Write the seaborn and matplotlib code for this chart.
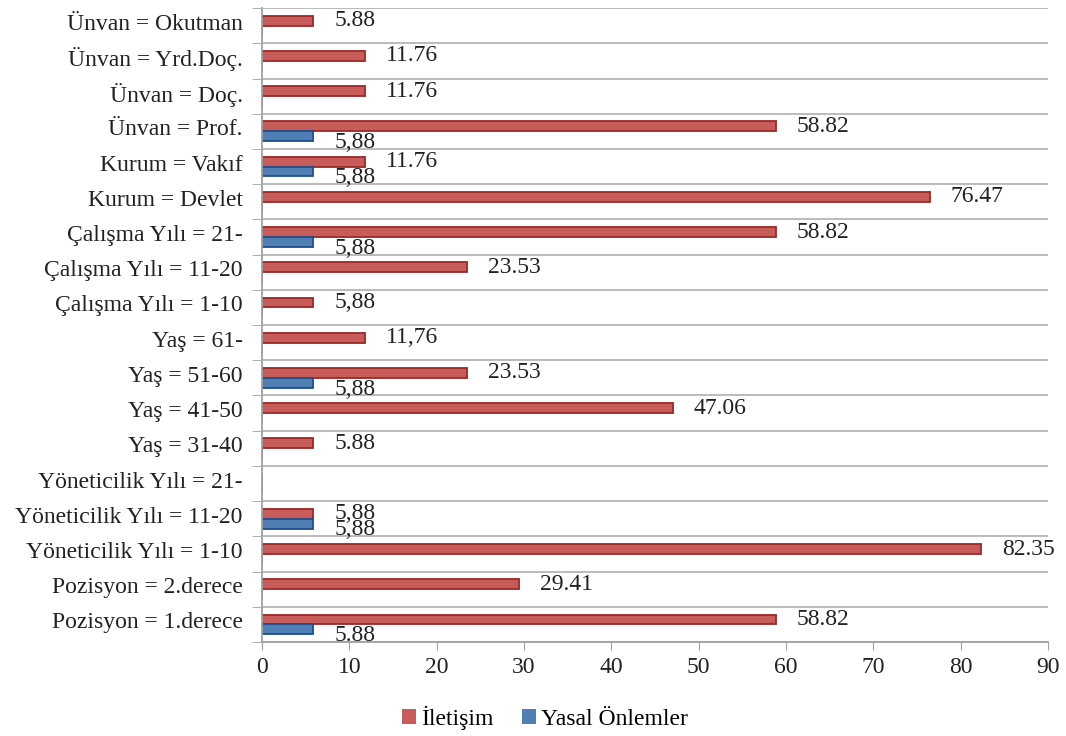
import numpy as np
import pandas as pd
import matplotlib.pyplot as plt
import matplotlib.transforms as mtransforms
import seaborn as sns

# veriler (yukarıdan aşağıya)
kategoriler = [
    'Ünvan = Okutman', 'Ünvan = Yrd.Doç.', 'Ünvan = Doç.', 'Ünvan = Prof.',
    'Kurum = Vakıf', 'Kurum = Devlet',
    'Çalışma Yılı = 21-', 'Çalışma Yılı = 11-20', 'Çalışma Yılı = 1-10',
    'Yaş = 61-', 'Yaş = 51-60', 'Yaş = 41-50', 'Yaş = 31-40',
    'Yöneticilik Yılı = 21-', 'Yöneticilik Yılı = 11-20', 'Yöneticilik Yılı = 1-10',
    'Pozisyon = 2.derece', 'Pozisyon = 1.derece',
]
iletisim = [5.88, 11.76, 11.76, 58.82, 11.76, 76.47, 58.82, 23.53, 5.88,
            11.76, 23.53, 47.06, 5.88, 0, 5.88, 82.35, 29.41, 58.82]
yasal = [0, 0, 0, 5.88, 5.88, 0, 5.88, 0, 0,
         0, 5.88, 0, 0, 0, 5.88, 0, 0, 5.88]
iletisim_etiket = ['5.88', '11.76', '11.76', '58.82', '11.76', '76.47', '58.82', '23.53', '5,88',
                   '11,76', '23.53', '47.06', '5.88', '', '5,88', '82.35', '29.41', '58.82']
yasal_etiket = ['', '', '', '5,88', '5,88', '', '5,88', '', '',
                '', '5,88', '', '', '', '5,88', '', '', '5.88']
seriler = ['İletişim', 'Yasal Önlemler']
renkler = ['#DA4A48', '#3F7EC6']
kenarlar = ['#9A2826', '#1F4E88']

df = pd.DataFrame({'kategori': kategoriler, seriler[0]: iletisim, seriler[1]: yasal})
df = df.melt(id_vars='kategori', var_name='seri', value_name='deger')

plt.rcParams['font.family'] = ['Liberation Serif', 'DejaVu Serif']
fs = 17

fig, ax = plt.subplots(figsize=(10.66, 7.36), dpi=100)
fig.subplots_adjust(left=0.2458, right=0.983, top=0.989, bottom=0.1277)

sns.barplot(data=df, y='kategori', x='deger', hue='seri', order=kategoriler,
            hue_order=seriler, palette=renkler, width=0.56, orient='h', ax=ax)

# kenar renkleri ve değer etiketleri
for cont, kenar, etiketler, dy in zip(ax.containers, kenarlar,
                                      [iletisim_etiket, yasal_etiket], [0, -4.5]):
    for bar, et in zip(cont, etiketler):
        bar.set_edgecolor(kenar)
        bar.set_linewidth(1.3)
        if et:
            ax.annotate(et, (bar.get_width(), bar.get_y() + bar.get_height() / 2),
                        xytext=(15, dy), textcoords='offset points',
                        ha='left', va='center', fontsize=fs, color='#222222')

ax.set_xlim(0, 90)
ax.set_xticks(np.arange(0, 91, 10))
ax.set_ylim(len(kategoriler) - 0.5, -0.5)
ax.set_yticks(np.arange(-0.5, len(kategoriler), 1), minor=True)
ax.tick_params(axis='y', which='major', length=0, pad=14, labelsize=fs, labelcolor='#222222')
ax.tick_params(axis='y', which='minor', length=7, color='#A0A0A0')
ax.tick_params(axis='x', length=6, color='#A0A0A0', labelsize=fs, labelcolor='#222222', pad=5)
ax.grid(axis='y', which='minor', color='#B5B5B5', linewidth=1.3)
ax.grid(axis='x', visible=False)
ax.set_axisbelow(True)
ax.set_xlabel('')
ax.set_ylabel('')
for s in ['top', 'right']:
    ax.spines[s].set_visible(False)
for s in ['left', 'bottom']:
    ax.spines[s].set_color('#A0A0A0')
    ax.spines[s].set_linewidth(1.3)

# kategori etiketlerini kırmızı çubuk hizasına biraz yukarı kaydır
kaydir = mtransforms.ScaledTranslation(0, 4 / 100, fig.dpi_scale_trans)
for lbl in ax.get_yticklabels():
    lbl.set_transform(lbl.get_transform() + kaydir)

sns.move_legend(ax, 'center', bbox_to_anchor=(0.36, -0.12), ncol=2, frameon=False,
                title=None, handlelength=0.6, handleheight=0.6, handletextpad=0.2,
                columnspacing=1.2, fontsize=fs)

plt.savefig('out.png', dpi=100)
